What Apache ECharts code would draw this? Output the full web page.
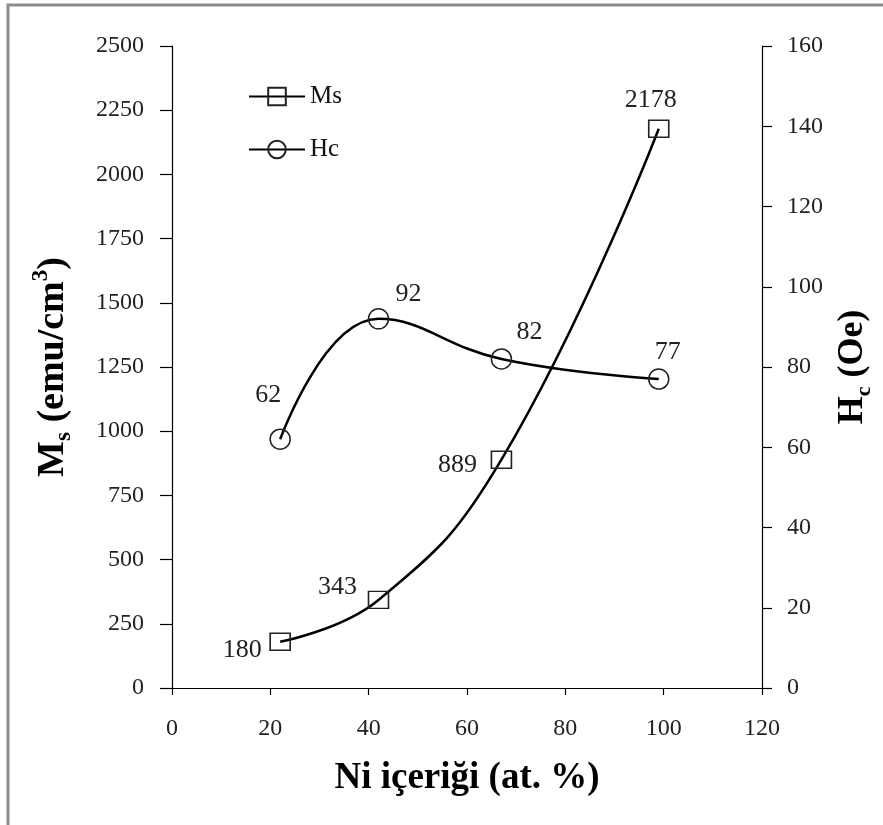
<!DOCTYPE html>
<html>
<head>
<meta charset="utf-8">
<script src="https://cdn.jsdelivr.net/npm/echarts@6/dist/echarts.min.js"></script>
<style>
  html, body { margin: 0; padding: 0; background: #fff; }
  #chart { width: 883px; height: 825px; }
</style>
</head>
<body>
<div id="chart"></div>
<script>
// Ni content (at. %)
var niContent = [22, 42, 67, 99];
// saturation magnetisation (emu/cm3)
var msValues = [180, 343, 889, 2178];
// coercivity (Oe)
var hcValues = [62, 92, 82, 77];

var serif = '"Liberation Serif", "Times New Roman", serif';

// label offsets from marker centre, px
var msOffsets = [[-38, 8], [-41, -13], [-44, 5], [-8, -29]];
var hcOffsets = [[-12, -44], [30, -25], [28, -27], [9, -27]];

function buildPoints(ys, offsets) {
	var pts = [];
	for (var i = 0; i < ys.length; i++) {
		pts.push({
			value: [niContent[i], ys[i]],
			label: { offset: offsets[i] }
		});
	}
	return pts;
}

function plain(v) { return String(v); }

var myChart = echarts.init(document.getElementById('chart'));

function axisStyle(tickLen, margin) {
	return {
		axisLine: { show: true, lineStyle: { color: '#000', width: 1.2 } },
		axisTick: { show: true, length: tickLen, lineStyle: { color: '#000', width: 1.2 } },
		axisLabel: { color: '#222', fontSize: 24, fontFamily: serif, margin: margin, formatter: plain },
		splitLine: { show: false }
	};
}

function nameRich(size) {
	return {
		a: { fontSize: size, fontWeight: 'bold', fontFamily: serif, color: '#000', lineHeight: size + 8, verticalAlign: 'middle' },
		sub: { fontSize: Math.round(size * 0.6), fontWeight: 'bold', fontFamily: serif, color: '#000', lineHeight: size + 8, verticalAlign: 'bottom' },
		sup: { fontSize: Math.round(size * 0.6), fontWeight: 'bold', fontFamily: serif, color: '#000', lineHeight: size + 8, verticalAlign: 'top' }
	};
}

option = {
	backgroundColor: '#fff',
	animation: false,
	graphic: [{
		type: 'rect',
		shape: { x: 8, y: 5, width: 900, height: 900 },
		style: { fill: 'none', stroke: '#8c8c8c', lineWidth: 3 },
		silent: true
	}],
	grid: {
		left: 172,
		right: 121,
		top: 46,
		bottom: 137,
		containLabel: false,
		outerBoundsMode: 'none'
	},
	legend: {
		orient: 'vertical',
		left: 243,
		top: 79,
		itemWidth: 56,
		itemHeight: 22,
		itemGap: 28,
		textStyle: { fontSize: 25, fontFamily: serif, color: '#111' },
		data: ['Ms', 'Hc']
	},
	xAxis: echarts.util.merge({
		type: 'value',
		min: 0,
		max: 120,
		interval: 20,
		name: 'Ni içeriği (at. %)',
		nameLocation: 'middle',
		nameGap: 72,
		nameTextStyle: { fontSize: 37, fontWeight: 'bold', fontFamily: serif, color: '#000' }
	}, axisStyle(7, 29)),
	yAxis: [
		echarts.util.merge({
			type: 'value',
			position: 'left',
			min: 0,
			max: 2500,
			interval: 250,
			name: '{a|M}{sub|s}{a| (emu/cm}{sup|3}{a|)}',
			nameLocation: 'middle',
			nameRotate: 90,
			nameGap: 96,
			nameTextStyle: { fontSize: 38, fontWeight: 'bold', fontFamily: serif, color: '#000', rich: nameRich(38) }
		}, axisStyle(12, 28)),
		echarts.util.merge({
			type: 'value',
			position: 'right',
			min: 0,
			max: 160,
			interval: 20,
			name: '{a|H}{sub|c}{a| (Oe)}',
			nameLocation: 'middle',
			nameRotate: 90,
			nameGap: 69,
			nameTextStyle: { fontSize: 36, fontWeight: 'bold', fontFamily: serif, color: '#000', rich: nameRich(36) }
		}, axisStyle(10, 25))
	],
	series: [
		{
			name: 'Ms',
			type: 'line',
			yAxisIndex: 0,
			smooth: 0.45,
			symbol: 'rect',
			symbolSize: [20, 17],
			lineStyle: { color: '#000', width: 2.5 },
			itemStyle: { color: 'rgba(255,255,255,0)', borderColor: '#222', borderWidth: 1.5 },
			label: {
				show: true,
				position: 'inside',
				fontSize: 26,
				fontFamily: serif,
				color: '#222',
				formatter: function (p) { return p.value[1]; }
			},
			data: buildPoints(msValues, msOffsets),
			z: 3
		},
		{
			name: 'Hc',
			type: 'line',
			yAxisIndex: 1,
			smooth: 0.45,
			symbol: 'circle',
			symbolSize: 20,
			lineStyle: { color: '#000', width: 2.5 },
			itemStyle: { color: 'rgba(255,255,255,0)', borderColor: '#222', borderWidth: 1.5 },
			label: {
				show: true,
				position: 'inside',
				fontSize: 26,
				fontFamily: serif,
				color: '#222',
				formatter: function (p) { return p.value[1]; }
			},
			data: buildPoints(hcValues, hcOffsets),
			z: 3
		}
	]
};

myChart.setOption(option);
</script>
</body>
</html>
